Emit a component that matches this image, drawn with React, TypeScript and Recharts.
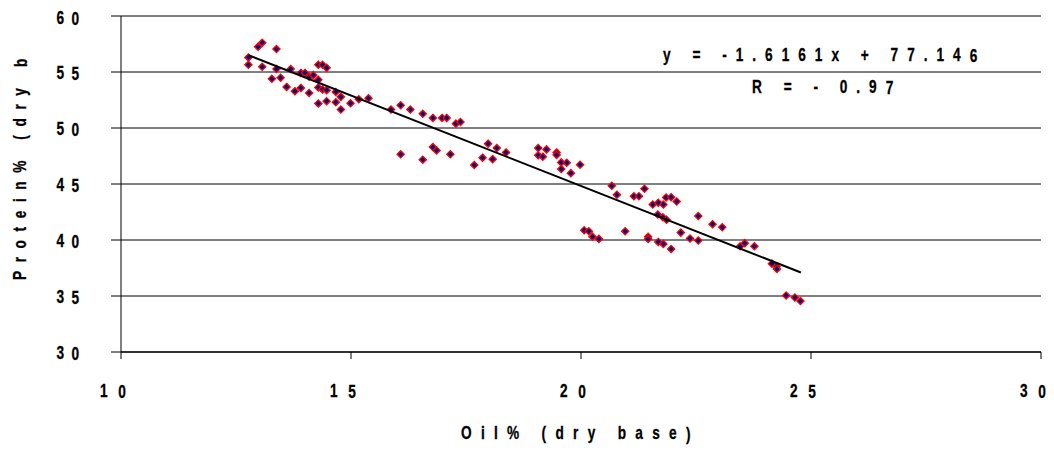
import React from 'react';
import { ScatterChart, Scatter, XAxis, YAxis, CartesianGrid } from 'recharts';

// oil content (% dry base) of each sample
const oil = [
  13.07, 12.98, 13.38, 12.77, 12.77, 13.07, 13.38, 13.69, 14.29, 14.38,
  14.47, 13.91, 14.0, 14.09, 14.18, 14.29, 13.28, 13.47, 13.6, 13.78,
  13.91, 14.09, 14.29, 14.38, 14.47, 14.67, 14.78, 14.29, 14.47, 14.67,
  14.78, 14.99, 15.17, 15.38, 15.87, 16.08, 16.29, 16.56, 16.78, 16.98,
  17.08, 17.28, 17.38, 16.08, 16.56, 16.78, 16.86, 17.16, 17.68, 17.86,
  17.98, 18.08, 18.17, 18.37, 19.07, 19.07, 19.17, 19.25, 19.47, 19.47,
  19.57, 19.69, 19.57, 19.78, 19.98, 20.67, 20.78, 21.15, 21.26, 21.38,
  21.56, 21.68, 21.79, 21.85, 21.96, 22.08, 21.67, 21.78, 21.86, 22.55,
  22.86, 23.07, 22.17, 22.37, 22.55, 20.07, 20.17, 20.25, 20.39, 20.96,
  21.46, 21.46, 21.68, 21.79, 21.96, 23.46, 23.56, 23.77, 24.15, 24.25,
  24.26, 24.46, 24.65, 24.77,
];

// protein content (% dry base), same order as oil
const protein = [
  57.61, 57.25, 57.05, 56.3, 55.64, 55.46, 55.26, 55.26, 55.64, 55.64,
  55.37, 54.92, 54.92, 54.57, 54.72, 54.3, 54.39, 54.48, 53.67, 53.29,
  53.58, 53.13, 53.62, 53.44, 53.38, 53.22, 52.78, 52.18, 52.39, 52.3,
  51.65, 52.21, 52.57, 52.66, 51.65, 52.03, 51.65, 51.27, 50.9, 50.9,
  50.9, 50.39, 50.54, 47.65, 47.17, 48.3, 48.0, 47.65, 46.69, 47.35,
  48.6, 47.22, 48.21, 47.82, 48.21, 47.56, 47.44, 48.09, 47.82, 47.6,
  46.93, 46.9, 46.33, 45.97, 46.72, 44.84, 44.04, 43.91, 43.91, 44.57,
  43.17, 43.32, 43.17, 43.8, 43.82, 43.44, 42.27, 42.03, 41.8, 42.14,
  41.41, 41.13, 40.66, 40.13, 39.95, 40.87, 40.78, 40.3, 40.1, 40.78,
  40.28, 40.1, 39.83, 39.65, 39.2, 39.44, 39.72, 39.44, 37.89, 37.64,
  37.41, 35.05, 34.86, 34.55,
];

// linear fit y = slope * x + intercept, drawn over the oil range
const slope = -1.6161;
const intercept = 77.146;
const fitRange = [12.77, 24.78];

const xTicks = [10, 15, 20, 25, 30];
const yTicks = [30, 35, 40, 45, 50, 55, 60];

const points = oil.map((x, i) => ({ x, y: protein[i] }));
const fitLine = fitRange.map((x) => ({ x, y: slope * x + intercept }));

const W = 1046;
const H = 448;
const SQUEEZE = 0.78; // horizontal squeeze to get a narrow bold face

// bold narrow text: letter spacing given in final (unsqueezed) pixels,
// no spacing after the last character
const NarrowText = ({
  x,
  y,
  spacing,
  rotate = 0,
  children,
}: {
  x: number;
  y: number;
  spacing: number;
  rotate?: number;
  children: string | number;
}) => {
  const str = String(children);
  return (
    <g transform={`translate(${x},${y}) rotate(${rotate}) scale(${SQUEEZE},1)`}>
      <text
        x={0}
        y={0}
        dominantBaseline="central"
        fontFamily="'Liberation Sans', Arial, sans-serif"
        fontWeight={700}
        fontSize={17.5}
        letterSpacing={spacing / SQUEEZE}
        fill="#000"
        stroke="#000"
        strokeWidth={0.3}
        style={{ whiteSpace: 'pre' }}
      >
        {str.slice(0, -1)}
        <tspan letterSpacing={0}>{str.slice(-1)}</tspan>
      </text>
    </g>
  );
};

const Diamond = (props: any) => {
  const { cx, cy } = props;
  if (cx == null || cy == null) return null;
  const r = 3.6;
  return (
    <polygon
      points={`${cx},${cy - r} ${cx + r},${cy} ${cx},${cy + r} ${cx - r},${cy}`}
      fill="#000080"
      stroke="#ff0000"
      strokeWidth={1.3}
    />
  );
};

const YTick = (props: any) => {
  const { x, y, payload } = props;
  return (
    <NarrowText x={x - 54.5} y={y + 1} spacing={7.4}>
      {payload.value}
    </NarrowText>
  );
};

const XTick = (props: any) => {
  const { x, y, payload } = props;
  return (
    <NarrowText x={x - 21} y={y + 32} spacing={10.7}>
      {payload.value}
    </NarrowText>
  );
};

export default function App() {
  return (
    <div style={{ position: 'relative', width: W, height: H }}>
      <ScatterChart width={W} height={H} margin={{ top: 8, right: 13, left: 0, bottom: 0 }}>
        <CartesianGrid horizontal vertical={false} stroke="#000" strokeWidth={1} strokeOpacity={1} />
        <XAxis
          type="number"
          dataKey="x"
          domain={[10, 30]}
          ticks={xTicks}
          height={104}
          tickSize={7}
          tickMargin={0}
          tick={<XTick />}
          axisLine={{ stroke: '#333', strokeWidth: 2 }}
          tickLine={{ stroke: '#000' }}
          allowDataOverflow
        />
        <YAxis
          type="number"
          dataKey="y"
          domain={[30, 60]}
          ticks={yTicks}
          width={113}
          tickSize={10}
          tickMargin={0}
          tick={<YTick />}
          axisLine={{ stroke: '#000' }}
          tickLine={{ stroke: '#000' }}
          allowDataOverflow
        />
        <Scatter data={points} shape={<Diamond />} isAnimationActive={false} />
        <Scatter
          data={fitLine}
          line={{ stroke: '#000', strokeWidth: 2 }}
          lineType="joint"
          shape={() => null}
          isAnimationActive={false}
        />
      </ScatterChart>
      <svg
        width={W}
        height={H}
        style={{ position: 'absolute', left: 0, top: 0, pointerEvents: 'none' }}
      >
        <NarrowText x={655} y={47} spacing={9}>
          y = -1.6161x + 77.146
        </NarrowText>
        <NarrowText x={744} y={79} spacing={9}>
          R = - 0.97
        </NarrowText>
        <NarrowText x={453} y={425} spacing={9.3}>
          Oil% (dry base)
        </NarrowText>
        <NarrowText x={12} y={272} rotate={-90} spacing={8.6}>
          Protein% (dry b
        </NarrowText>
      </svg>
    </div>
  );
}
